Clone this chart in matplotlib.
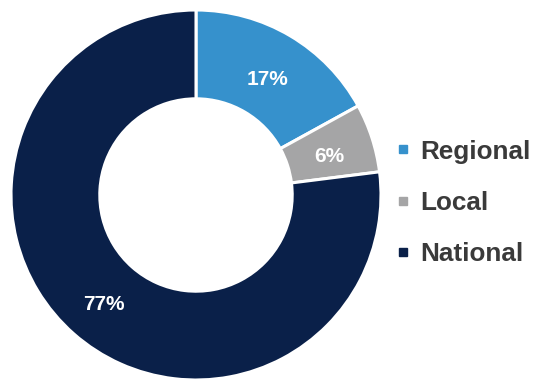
import matplotlib.pyplot as plt
from matplotlib.lines import Line2D

labels = ['Regional', 'Local', 'National']
shares = [17, 6, 77]
colors = ['#3691cc', '#a5a5a6', '#0a2049']

plt.rcParams['font.family'] = ['Liberation Sans', 'DejaVu Sans']

fig = plt.figure(figsize=(5.36, 3.79), dpi=100)
W, H = 536, 379
cx, cy, r = 196, 184, 185  # centre (from bottom) and radius in px
ax = fig.add_axes([(cx - r) / W, (cy - r) / H, 2 * r / W, 2 * r / H])

wedges, texts, autotexts = ax.pie(
    shares, colors=colors, startangle=90, counterclock=False,
    autopct='%d%%', pctdistance=0.755,
    wedgeprops=dict(width=0.48, edgecolor='white', linewidth=2.2),
    textprops=dict(color='white', fontsize=15, fontweight='bold'))
# labels sit a little lower in the original
for t in autotexts:
    x, y = t.get_position()
    t.set_position((x, y - 5 / r))
ax.set_xlim(-1, 1)
ax.set_ylim(-1, 1)
ax.set_aspect('equal')

handles = [Line2D([], [], marker='s', ls='', color=c, markersize=6) for c in colors]
fig.legend(handles, labels, loc='center left', bbox_to_anchor=(395 / W, 1 - 203 / H),
           frameon=False, prop=dict(weight='bold', size=18.8),
           labelcolor='#3a3a3a', handlelength=0.6, handletextpad=0.38,
           labelspacing=1.05, borderpad=0, borderaxespad=0)

fig.savefig('out.png', dpi=100)
